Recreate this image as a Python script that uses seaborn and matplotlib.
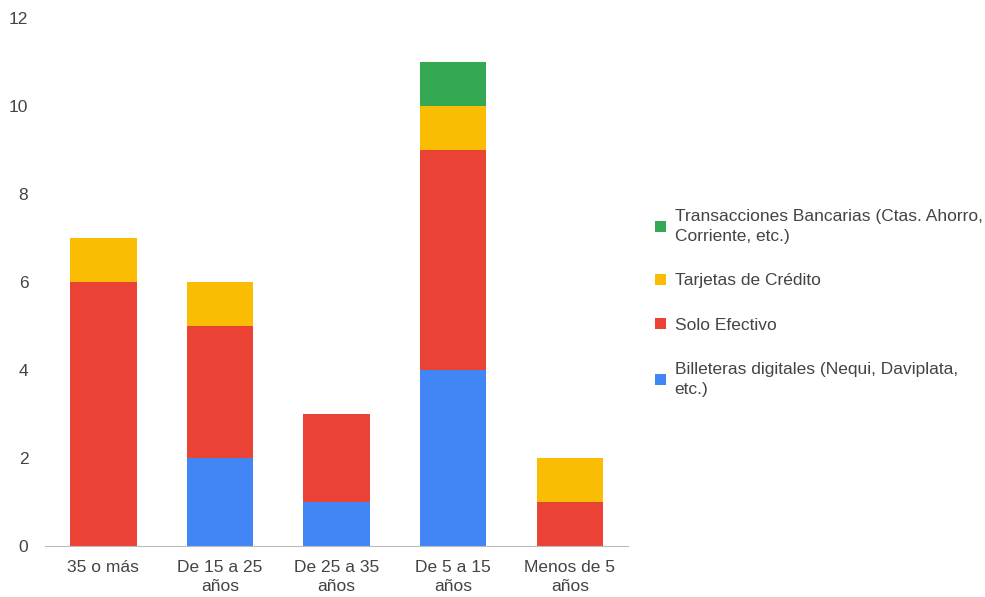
import numpy as np
import pandas as pd
import seaborn as sns
import matplotlib.pyplot as plt

categories = ['35 o más', 'De 15 a 25\naños', 'De 25 a 35\naños', 'De 5 a 15\naños', 'Menos de 5\naños']
billeteras = [0, 2, 1, 4, 0]
efectivo = [6, 3, 2, 5, 1]
tarjetas = [1, 1, 0, 1, 1]
transacciones = [0, 0, 0, 1, 0]

series = [
    ('Billeteras digitales (Nequi, Daviplata,\netc.)', billeteras, '#4285F4'),
    ('Solo Efectivo', efectivo, '#EA4335'),
    ('Tarjetas de Crédito', tarjetas, '#FBBC04'),
    ('Transacciones Bancarias (Ctas. Ahorro,\nCorriente, etc.)', transacciones, '#34A853'),
]

sns.set_style('white')
plt.rcParams['font.family'] = ['Liberation Sans', 'DejaVu Sans']

fig = plt.figure(figsize=(9.85, 5.97), dpi=100)
ax = fig.add_axes([0.0457, 0.0854, 0.592, 0.8844])

bottom = np.zeros(len(categories))
for name, vals, color in series:
    df = pd.DataFrame({'cat': categories, 'val': vals})
    sns.barplot(data=df, x='cat', y='val', color=color, width=0.57,
                bottom=bottom, ax=ax, saturation=1, label=name, linewidth=0)
    bottom = bottom + np.array(vals)

ax.set_xlim(-0.5, 4.5)
ax.set_ylim(0, 12)
ax.set_yticks(range(0, 13, 2))
ax.set_xlabel('')
ax.set_ylabel('')
for s in ['top', 'right', 'left']:
    ax.spines[s].set_visible(False)
ax.spines['bottom'].set_color('#bbbbbb')
ax.tick_params(axis='both', colors='#444444', labelsize=12.5, length=0)
ax.tick_params(axis='y', pad=12)
ax.tick_params(axis='x', pad=10)
for t in ax.get_xticklabels():
    t.set_linespacing(1.35)

h, l = ax.get_legend_handles_labels()
leg = ax.legend(h[::-1], l[::-1], loc='center left', bbox_to_anchor=(1.02, 0.46),
                frameon=False, fontsize=12.5, labelcolor='#444444',
                handlelength=0.6, handleheight=0.6, labelspacing=1.7, handletextpad=0.5)
for t in leg.get_texts():
    t.set_linespacing(1.4)

fig.savefig('out.png', dpi=100)
